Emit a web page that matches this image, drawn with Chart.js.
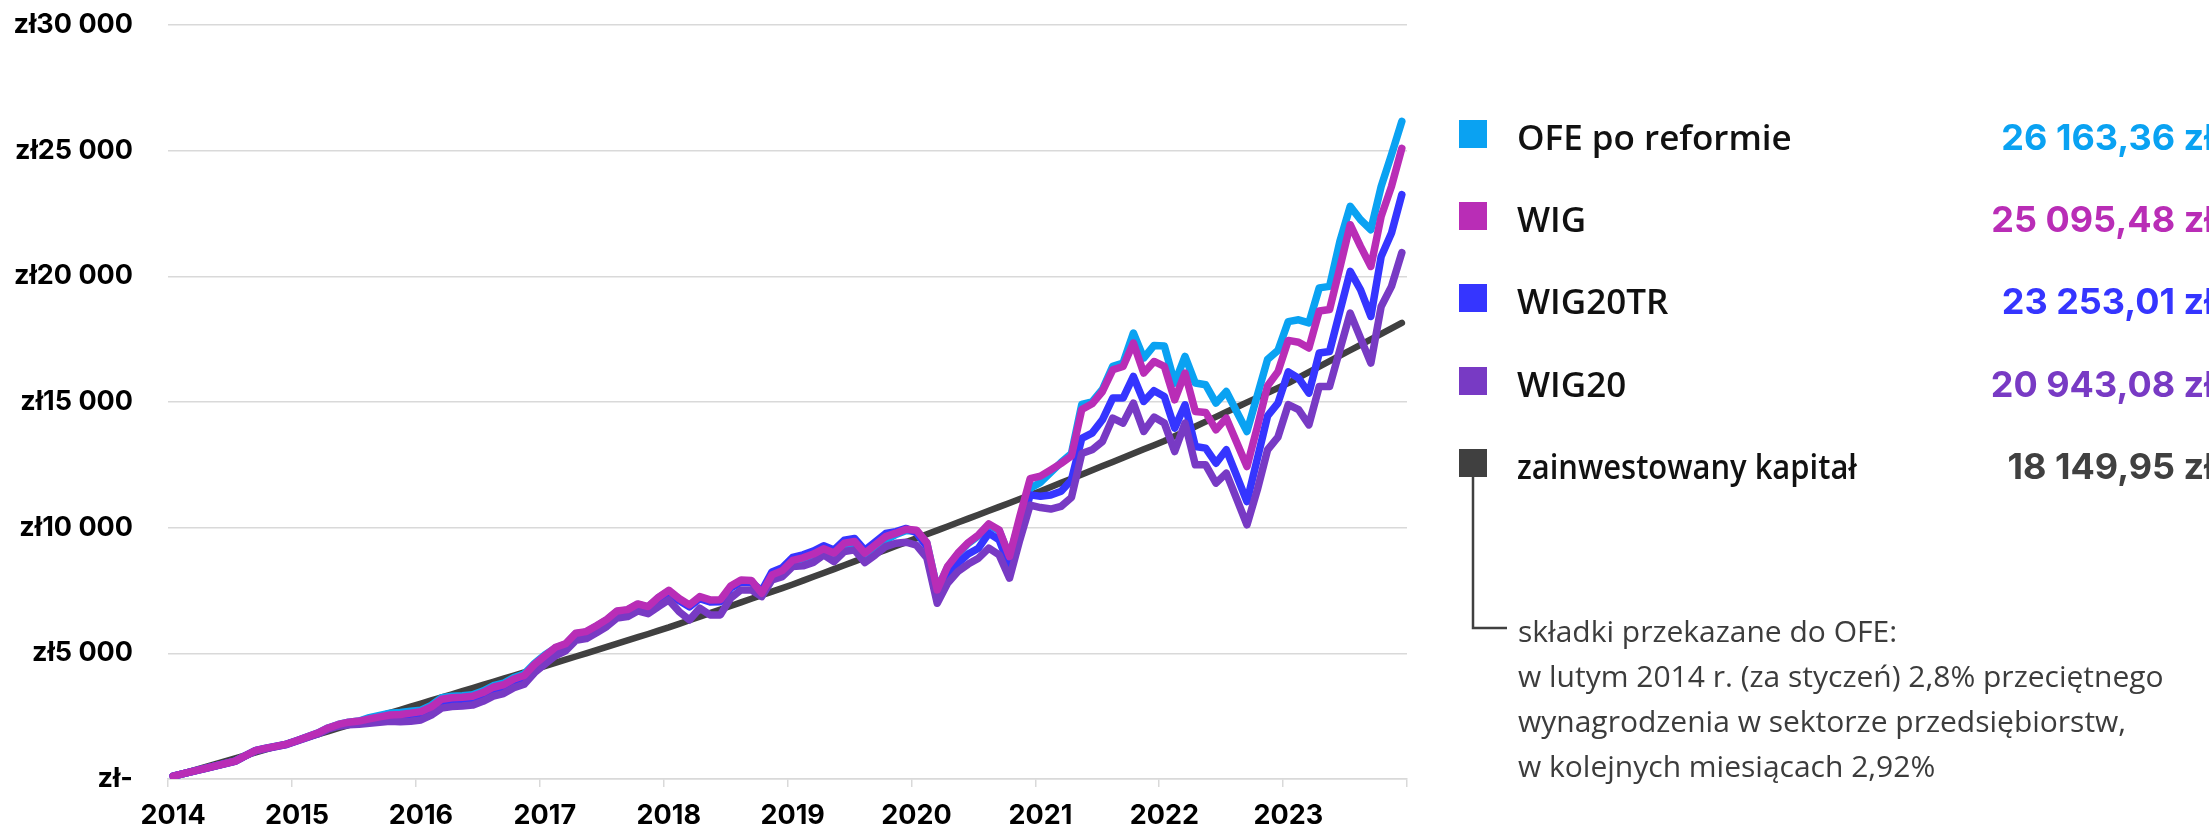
<!DOCTYPE html>
<html><head><meta charset="utf-8">
<script src="https://cdn.jsdelivr.net/npm/chart.js@4.4.1/dist/chart.umd.min.js"></script>
<style>
html,body{margin:0;padding:0;background:#fff;}
#wrap{position:relative;width:2209px;height:827px;overflow:hidden;background:#fff;}
#c{position:absolute;left:0;top:0;}
#ov{position:absolute;left:0;top:0;pointer-events:none;}
</style></head><body>
<div id="wrap"><canvas id="c" width="2209" height="827"></canvas>
<svg id="ov" xmlns="http://www.w3.org/2000/svg" width="2209" height="827" viewBox="0 0 2209 827"></svg></div>
<script>
const years = ['2014','2015','2016','2017','2018','2019','2020','2021','2022','2023'];
const months = ['01','02','03','04','05','06','07','08','09','10','11','12'];

const kapital = [110,228,346,466,584,702,820,940,1058,1176,1294,1412,
1532,1654,1776,1898,2020,2142,2264,2388,2510,2632,2754,2878,
3000,3125,3250,3372,3497,3620,3745,3868,3992,4117,4240,4365,
4490,4618,4746,4874,5002,5130,5258,5386,5514,5642,5770,5900,
6030,6172,6315,6457,6600,6742,6885,7027,7170,7312,7455,7597,
7740,7893,8046,8199,8352,8505,8659,8812,8965,9118,9271,9425,
9580,9736,9892,10048,10204,10360,10515,10671,10827,10983,11139,11295,
11450,11617,11783,11950,12117,12283,12450,12617,12783,12950,13117,13283,
13450,13642,13833,14025,14217,14408,14600,14792,14983,15175,15367,15558,
15750,15968,16186,16405,16623,16841,17059,17277,17495,17714,17932,18150];

const wig = [115,215,315,410,510,610,710,930,1140,1230,1310,1390,
1530,1680,1830,2030,2170,2260,2305,2390,2470,2548,2570,2620,
2680,2870,3170,3230,3255,3290,3440,3650,3750,3980,4120,4560,
4900,5230,5380,5800,5864,6100,6350,6688,6740,6967,6860,7230,
7510,7180,6927,7257,7126,7130,7680,7920,7900,7391,8122,8290,
8700,8800,8950,9160,8990,9380,9447,8985,9315,9646,9781,9940,
9900,9400,7524,8452,8985,9400,9713,10151,9912,8850,10442,11950,
12050,12300,12560,12850,14700,14929,15419,16282,16414,17346,16151,16613,
16414,15088,16151,14624,14584,13893,14359,13400,12434,14000,15650,16200,
17450,17380,17150,18620,18680,20350,22054,21191,20395,22386,23580,25095];

const ofe = [115,215,315,410,510,610,710,930,1140,1230,1310,1390,
1530,1680,1830,2030,2170,2260,2305,2440,2530,2620,2650,2700,
2740,2930,3230,3290,3315,3350,3500,3710,3810,4040,4180,4600,
4940,5210,5360,5780,5844,6080,6330,6668,6720,6947,6840,7210,
7470,7140,6887,7217,7086,7090,7640,7880,7860,7351,7972,8140,
8550,8650,8800,9010,8840,9230,9297,8835,9165,9496,9731,9890,
9850,9380,7550,8420,8950,9370,9680,10110,9880,8850,10300,11570,
11800,12200,12600,12950,14900,15000,15500,16420,16550,17745,16747,17250,
17230,15753,16812,15753,15686,14956,15420,14620,13826,15260,16700,17050,
18200,18270,18150,19540,19600,21391,22783,22253,21855,23580,24842,26163];

const wig20tr = [115,215,315,410,510,610,710,925,1130,1220,1300,1380,
1520,1665,1810,2010,2140,2220,2245,2310,2390,2470,2480,2520,
2550,2740,3040,3100,3125,3160,3310,3520,3620,3850,3990,4360,
4700,5030,5280,5700,5764,6000,6250,6588,6640,6867,6760,7130,
7430,7100,6847,7177,7046,7050,7600,7840,7820,7491,8242,8410,
8820,8920,9070,9280,9110,9500,9567,9105,9435,9766,9841,9970,
9793,9250,7391,8186,8585,8950,9184,9781,9514,8452,9781,11306,
11250,11300,11450,11900,13550,13760,14292,15155,15155,16016,15021,15450,
15220,13960,14889,13229,13163,12566,13097,12070,11039,12740,14450,14956,
16200,15950,15354,16950,17010,18604,20196,19467,18404,20793,21722,23253];

const wig20 = [115,215,315,405,500,600,700,915,1120,1210,1290,1370,
1510,1650,1790,1980,2100,2160,2175,2220,2260,2300,2280,2300,
2350,2540,2820,2880,2905,2940,3090,3300,3400,3630,3770,4230,
4570,4900,5100,5520,5584,5820,6070,6408,6460,6687,6580,6860,
7126,6661,6330,6795,6529,6529,7200,7524,7524,7257,7922,8054,
8452,8480,8620,8917,8651,9049,9115,8611,8917,9248,9382,9420,
9300,8800,6993,7790,8253,8550,8786,9184,8917,7990,9514,10900,
10800,10740,10850,11200,12950,13097,13428,14359,14160,14956,13826,14400,
14160,13030,14160,12500,12500,11772,12169,11150,10112,11500,13100,13600,
14900,14700,14093,15620,15620,17080,18538,17544,16547,18803,19600,20943];

const seriesNames = ['OFE po reformie','WIG','WIG20TR','WIG20','zainwestowany kapitał'];
const finalValues = ['26 163,36 zł','25 095,48 zł','23 253,01 zł','20 943,08 zł','18 149,95 zł'];
const noteLines = ['składki przekazane do OFE:','w lutym 2014 r. (za styczeń) 2,8% przeciętnego','wynagrodzenia w sektorze przedsiębiorstw,','w kolejnych miesiącach 2,92%'];

const colors = ['#0aa2f2','#b92db6','#3535ff','#783ac4','#404040'];
const gridColor = '#d9d9d9';

const labels = years.flatMap(y => months.map(m => y + '-' + m));
const isYearStart = i => labels[i] !== undefined && labels[i].endsWith('-01');

const seriesData = [ofe, wig, wig20tr, wig20, kapital];
const drawOrder = [3, 0, 2, 1, 4];

const datasets = seriesData.map((d, k) => ({
  label: seriesNames[k],
  data: d,
  borderColor: colors[k],
  backgroundColor: colors[k],
  borderWidth: k === 4 ? 6.5 : 7.5,
  pointRadius: 0,
  tension: 0,
  fill: false,
  borderJoinStyle: 'round',
  borderCapStyle: 'round',
  order: drawOrder[k]
}));

const fmt = v => v === 0 ? 'zł-' : 'zł' + String(v).replace(/\B(?=(\d{3})+(?!\d))/g, ' ');
const axisFont = { family: 'Inter', weight: 'bold', size: 27 };

new Chart(document.getElementById('c'), {
  type: 'line',
  data: { labels, datasets },
  options: {
    responsive: false,
    animation: false,
    devicePixelRatio: 1,
    layout: { padding: { top: 25, right: 802, left: 0, bottom: 0 } },
    plugins: { legend: { display: false }, tooltip: { enabled: false } },
    scales: {
      x: {
        type: 'category',
        offset: true,
        afterFit: s => { s.height = 48; s.paddingLeft = 0; s.paddingRight = 0; },
        grid: {
          offset: true,
          drawOnChartArea: false,
          drawTicks: true,
          tickLength: 8,
          lineWidth: 1.5,
          color: ctx => (ctx.tick === undefined || isYearStart(ctx.index)) ? gridColor : 'rgba(0,0,0,0)'
        },
        border: { display: true, color: gridColor, width: 1.5 },
        ticks: {
          autoSkip: false,
          maxRotation: 0,
          minRotation: 0,
          padding: 13,
          color: '#000',
          font: axisFont,
          callback: (v, i) => isYearStart(i) ? labels[i].slice(0, 4) : ''
        }
      },
      y: {
        min: 0,
        max: 30000,
        afterFit: s => { s.width = 168; s.paddingTop = 0; s.paddingBottom = 0; },
        grid: { color: gridColor, lineWidth: 1.5, drawTicks: false },
        border: { display: false },
        ticks: {
          stepSize: 5000,
          padding: 35,
          color: '#000',
          font: axisFont,
          callback: v => fmt(v)
        }
      }
    }
  }
});

// legend + note as SVG text
const NS = 'http://www.w3.org/2000/svg';
const svg = document.getElementById('ov');
function el(tag, attrs, text) {
  const e = document.createElementNS(NS, tag);
  for (const k in attrs) e.setAttribute(k, attrs[k]);
  if (text !== undefined) e.textContent = text;
  svg.appendChild(e);
  return e;
}
const rowY = [134, 216, 298, 381, 463];
seriesNames.forEach((name, k) => {
  const cy = rowY[k];
  el('rect', { x: 1459, y: cy - 14, width: 28, height: 28, fill: colors[k] });
  const a = { x: 1517, y: cy + 16, fill: '#111', 'font-family': 'Open Sans', 'font-weight': 600, 'font-size': 35 };
  if (k === 4) { a.textLength = 340; a.lengthAdjust = 'spacingAndGlyphs'; }
  el('text', a, name);
  el('text', { x: 2214, y: cy + 16, fill: colors[k], 'text-anchor': 'end', 'font-family': 'Inter', 'font-weight': 700, 'font-size': 36 }, finalValues[k]);
});
el('path', { d: 'M1473 477 V628 H1507', stroke: '#404040', 'stroke-width': 2.5, fill: 'none' });
noteLines.forEach((t, i) => {
  el('text', { x: 1518, y: 642 + i * 45, fill: '#3c3c3c', 'font-family': 'Open Sans', 'font-weight': 400, 'font-size': 30 }, t);
});
</script>
</body></html>
